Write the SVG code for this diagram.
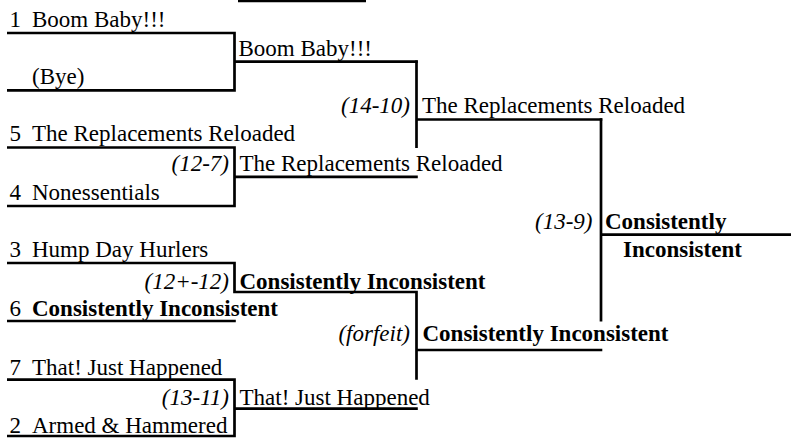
<svg xmlns="http://www.w3.org/2000/svg" width="791" height="438" viewBox="0 0 791 438">
<style>
text{font-family:"Liberation Serif","Times New Roman",serif;font-size:23px;fill:#000}
.b{font-weight:bold}
.s{font-style:italic;text-anchor:end}
.ln{fill:none;stroke:#000;stroke-width:2.7;stroke-linejoin:miter}
</style>
<rect width="791" height="438" fill="#fff"/>
<g id="connectors">
<line class="ln" x1="238" y1="1" x2="366" y2="1"/>
<polyline class="ln" points="7,33 234.5,33 234.5,90.3 7,90.3"/>
<line class="ln" x1="234.5" y1="61.7" x2="417.8" y2="61.7"/>
<polyline class="ln" points="416.5,60.4 416.5,148"/>
<polyline class="ln" points="7,147.5 234.5,147.5 234.5,206 7,206"/>
<line class="ln" x1="234.5" y1="176.8" x2="417.8" y2="176.8"/>
<line class="ln" x1="416.5" y1="119.5" x2="602.3" y2="119.5"/>
<polyline class="ln" points="601,118.2 601,321.5"/>
<line class="ln" x1="601" y1="234.7" x2="791" y2="234.7"/>
<polyline class="ln" points="7,263 234.5,263 234.5,292 416.5,292 416.5,379.7"/>
<line class="ln" x1="7" y1="321" x2="235.8" y2="321"/>
<line class="ln" x1="416.5" y1="350" x2="602.3" y2="350"/>
<polyline class="ln" points="7,379.7 234.5,379.7 234.5,436 7,436"/>
<line class="ln" x1="234.5" y1="408.7" x2="417.8" y2="408.7"/>
</g>
<g id="r1-1"><text x="9.5" y="27">1</text><text x="32" y="27">Boom Baby!!!</text></g>
<g id="r1-bye"><text x="32" y="84">(Bye)</text></g>
<g id="r2-1"><text x="238.5" y="55.5">Boom Baby!!!</text></g>
<g id="r3-1"><text class="s" x="410" y="112.5">(14-10)</text><text x="422" y="112.5">The Replacements Reloaded</text></g>
<g id="r1-5"><text x="9.5" y="140.5">5</text><text x="32" y="140.5">The Replacements Reloaded</text></g>
<g id="r2-2"><text class="s" x="229" y="171">(12-7)</text><text x="239.5" y="171">The Replacements Reloaded</text></g>
<g id="r1-4"><text x="9.5" y="199.5">4</text><text x="32" y="199.5">Nonessentials</text></g>
<g id="champion"><text class="s" x="592.5" y="229">(13-9)</text><text class="b" x="605" y="229">Consistently</text><text class="b" x="623" y="257">Inconsistent</text></g>
<g id="r1-3"><text x="9.5" y="256.7">3</text><text x="32" y="256.7">Hump Day Hurlers</text></g>
<g id="r2-3"><text class="s" x="229" y="289">(12+-12)</text><text class="b" x="239.5" y="289">Consistently Inconsistent</text></g>
<g id="r1-6"><text x="9.5" y="316">6</text><text class="b" x="32" y="316">Consistently Inconsistent</text></g>
<g id="r3-2"><text class="s" x="410" y="341">(forfeit)</text><text class="b" x="422.5" y="341">Consistently Inconsistent</text></g>
<g id="r1-7"><text x="9.5" y="375">7</text><text x="32" y="375">That! Just Happened</text></g>
<g id="r2-4"><text class="s" x="229" y="405">(13-11)</text><text x="239.5" y="405">That! Just Happened</text></g>
<g id="r1-2"><text x="9.5" y="432.5">2</text><text x="32" y="432.5">Armed &amp; Hammered</text></g>
</svg>
